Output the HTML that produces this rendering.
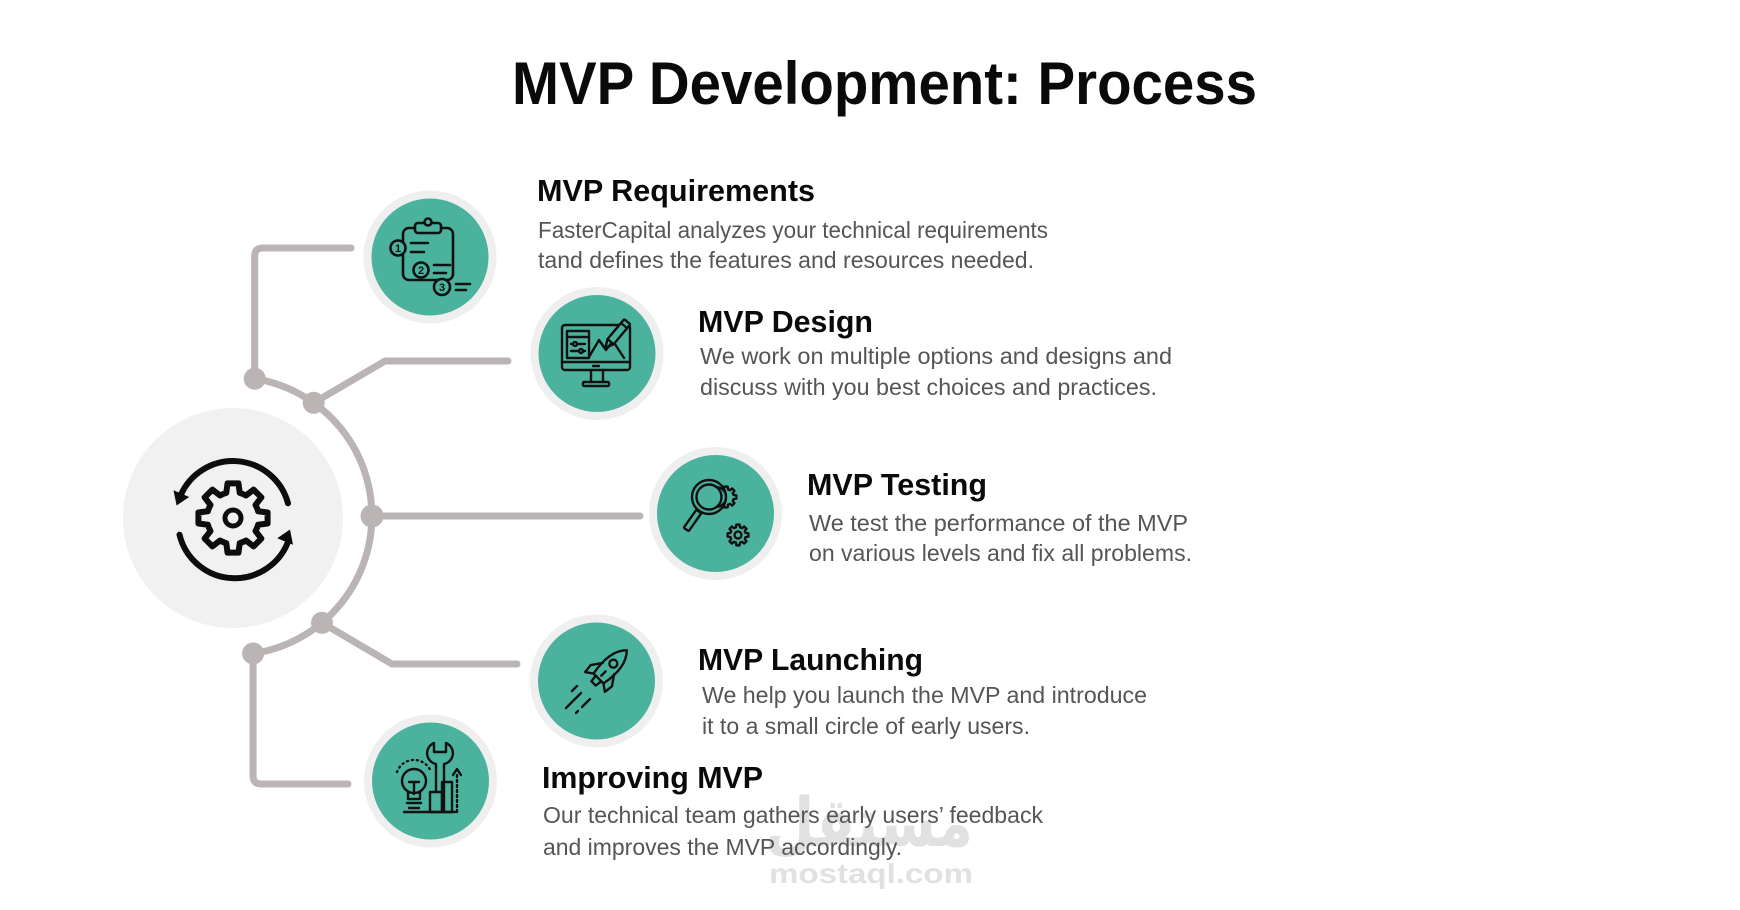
<!DOCTYPE html>
<html>
<head>
<meta charset="utf-8">
<style>
html,body{margin:0;padding:0;background:#fff;}
svg{display:block;}
text{font-family:"Liberation Sans",Arial,sans-serif;}
</style>
</head>
<body>
<svg width="1740" height="910" viewBox="0 0 1740 910" xmlns="http://www.w3.org/2000/svg">
<defs>
<path id="gear" d="M25.11,-6.73 L34.57,-5.48 L34.57,5.48 L25.11,6.73 A26,26 0 0 1 22.51,13 L28.32,20.57 L20.57,28.32 L13,22.51 A26,26 0 0 1 6.73,25.11 L5.48,34.57 L-5.48,34.57 L-6.73,25.11 A26,26 0 0 1 -13,22.51 L-20.57,28.32 L-28.32,20.57 L-22.51,13 A26,26 0 0 1 -25.11,6.73 L-34.57,5.48 L-34.57,-5.48 L-25.11,-6.73 A26,26 0 0 1 -22.51,-13 L-28.32,-20.57 L-20.57,-28.32 L-13,-22.51 A26,26 0 0 1 -6.73,-25.11 L-5.48,-34.57 L5.48,-34.57 L6.73,-25.11 A26,26 0 0 1 13,-22.51 L20.57,-28.32 L28.32,-20.57 L22.51,-13 A26,26 0 0 1 25.11,-6.73 Z"/>
</defs>
<rect width="1740" height="910" fill="#ffffff"/>

<!-- Title -->
<text x="512" y="104" font-size="60" font-weight="700" fill="#0a0a0a" textLength="745" lengthAdjust="spacingAndGlyphs">MVP Development: Process</text>

<!-- Central circle -->
<circle cx="233" cy="518" r="110" fill="#f1f1f1"/>

<!-- Central icon -->
<g fill="none" stroke="#0d0d0d" stroke-width="6" stroke-linecap="round" stroke-linejoin="round">
  <use href="#gear" transform="translate(233,518)"/>
  <circle cx="233" cy="518" r="8" stroke-width="5"/>
  <path d="M180.5,495.7 A57,57 0 0 1 288,503.3"/>
  <path d="M288.9,539.4 A57,57 0 0 1 179.5,534.7"/>
</g>
<polygon points="176.6,505.5 189.2,497 173.5,490.2" fill="#0d0d0d"/>
<polygon points="290,529.5 293,544.8 277.2,538.2" fill="#0d0d0d"/>

<!-- Connectors -->
<g fill="none" stroke="#bab4b4" stroke-width="7" stroke-linecap="round" stroke-linejoin="round">
  <path d="M254.7,378.7 A139,139 0 0 1 253.1,653.5"/>
  <path d="M254.7,378.7 L254.7,256 Q254.7,248 262.7,248 L351,248"/>
  <path d="M313.7,402.8 L385,361 L508,361"/>
  <path d="M372,516 L640,516"/>
  <path d="M322,622.8 L392,664 L517,664"/>
  <path d="M253.1,653.5 L253.1,776 Q253.1,784 261,784 L348,784"/>
</g>
<g fill="#bab4b4">
  <circle cx="254.7" cy="378.7" r="11"/>
  <circle cx="313.7" cy="402.8" r="11"/>
  <circle cx="372" cy="516" r="11.5"/>
  <circle cx="322" cy="622.8" r="11"/>
  <circle cx="253.1" cy="653.5" r="11"/>
</g>

<!-- Teal circles -->
<g>
  <circle cx="430" cy="257" r="66.5" fill="#efefef"/>
  <circle cx="430" cy="257" r="58.5" fill="#4bb39d"/>
  <circle cx="597" cy="353.5" r="66.5" fill="#efefef"/>
  <circle cx="597" cy="353.5" r="58.5" fill="#4bb39d"/>
  <circle cx="715.5" cy="513.5" r="66.5" fill="#efefef"/>
  <circle cx="715.5" cy="513.5" r="58.5" fill="#4bb39d"/>
  <circle cx="596.5" cy="681" r="66.5" fill="#efefef"/>
  <circle cx="596.5" cy="681" r="58.5" fill="#4bb39d"/>
  <circle cx="430.5" cy="781" r="66.5" fill="#efefef"/>
  <circle cx="430.5" cy="781" r="58.5" fill="#4bb39d"/>
</g>

<!-- Icon 1: clipboard -->
<g fill="none" stroke="#111" stroke-width="2.6" stroke-linecap="round" stroke-linejoin="round">
  <rect x="403" y="228" width="50" height="52" rx="6"/>
  <rect x="415" y="223" width="26" height="10" rx="3" fill="#4bb39d"/>
  <circle cx="428" cy="222" r="3.5" fill="#4bb39d"/>
  <circle cx="398" cy="248" r="7.5" fill="#4bb39d"/>
  <circle cx="421" cy="270" r="7.5" fill="#4bb39d"/>
  <circle cx="442" cy="287" r="8" fill="#4bb39d"/>
  <path d="M411,243 H428 M411,252 H424 M434,265 H450 M434,273 H446 M456,284 H470 M456,290 H466"/>
</g>
<g font-size="11" font-weight="700" fill="#111" text-anchor="middle">
  <text x="398" y="252">1</text>
  <text x="421" y="274">2</text>
  <text x="442" y="291">3</text>
</g>

<!-- Icon 2: monitor -->
<g fill="none" stroke="#111" stroke-width="2.4" stroke-linecap="round" stroke-linejoin="round">
  <rect x="562" y="325" width="68" height="45" rx="3"/>
  <line x1="562" y1="362" x2="630" y2="362"/>
  <line x1="593" y1="366" x2="599" y2="366"/>
  <path d="M591,370 V382 M603,370 V382"/>
  <rect x="583" y="382" width="26" height="4" rx="1"/>
  <rect x="567" y="331" width="22" height="27"/>
  <path d="M569,337 H587 M571,344 H585 M571,351 H585"/>
  <circle cx="575" cy="344" r="2" fill="#4bb39d"/>
  <circle cx="581" cy="351" r="2" fill="#4bb39d"/>
  <polyline points="589,357 599,340 606,350 613,341 624,358"/>
  <g transform="rotate(40 617 334)">
    <rect x="613" y="318" width="8" height="26" rx="1" fill="#4bb39d"/>
    <path d="M613,344 L617,352 L621,344"/>
    <line x1="613" y1="323" x2="621" y2="323"/>
  </g>
</g>

<!-- Icon 3: magnifier + gears -->
<g fill="none" stroke="#111" stroke-width="2.4" stroke-linecap="round" stroke-linejoin="round">
  <use href="#gear" transform="translate(726,497) scale(0.3)" stroke-width="8"/>
  <circle cx="709" cy="497" r="17" fill="#4bb39d"/>
  <circle cx="709" cy="497" r="12.5"/>
  <path d="M716,487 A10,10 0 0 1 716,507" stroke-width="2.2"/>
  <rect x="689.5" y="509.5" width="6" height="22" rx="1" transform="rotate(35 692.5 520.5)"/>
  <use href="#gear" transform="translate(738,535) scale(0.3)" stroke-width="8"/>
  <circle cx="738" cy="535" r="3.5"/>
</g>

<!-- Icon 4: rocket -->
<g fill="none" stroke="#111" stroke-width="2.4" stroke-linecap="round" stroke-linejoin="round">
  <g transform="translate(607,670) rotate(45)">
    <path d="M0,-28 C9,-19 10,-4 7,12 L-7,12 C-10,-4 -9,-19 0,-28Z"/>
    <circle cx="0" cy="-9" r="4"/>
    <path d="M-8,-2 L-15,8 L-14,17 L-7,12"/>
    <path d="M8,-2 L15,8 L14,17 L7,12"/>
    <path d="M-4,12 L-3,19 L3,19 L4,12"/>
    <line x1="0" y1="2" x2="0" y2="8"/>
  </g>
  <path d="M581,693 L566,708"/>
  <path d="M590,699 L582,707 M578,711 L576,713"/>
  <path d="M577,686 L572,691"/>
</g>

<!-- Icon 5: bulb, wrench, chart -->
<g fill="none" stroke="#111" stroke-width="2.4" stroke-linecap="round" stroke-linejoin="round">
  <circle cx="414" cy="781" r="12"/>
  <path d="M408,792 V799 H420 V792"/>
  <path d="M407,803 H421 M409,808 H419"/>
  <path d="M409,782 H419 M414,782 V794"/>
  <path d="M397,772 A18,18 0 0 1 431,772" stroke-dasharray="1 4"/>
  <path d="M434,743 A11,11 0 0 0 436,764 L436,810 L444,810 L444,764 A11,11 0 0 0 446,743 L446,752 L434,752 Z" fill="#4bb39d"/>
  <rect x="430" y="792" width="12" height="20" fill="#4bb39d"/>
  <rect x="442" y="782" width="10" height="30"/>
  <path d="M457,812 V772" stroke-dasharray="2 3"/>
  <path d="M453,775 L457,769 L461,775"/>
  <path d="M404,812 H455"/>
</g>

<!-- Watermark (behind text) -->
<g fill="#e1e1e1">
  <text x="765" y="846" font-size="68" font-weight="700" textLength="208" lengthAdjust="spacingAndGlyphs" style="font-family:'DejaVu Sans',sans-serif">مستقل</text>
  <text x="769" y="883" font-size="28" font-weight="700" textLength="204" lengthAdjust="spacingAndGlyphs">mostaql.com</text>
</g>

<!-- Headings -->
<g font-weight="700" fill="#0a0a0a" font-size="31">
  <text x="537" y="201" textLength="278" lengthAdjust="spacingAndGlyphs">MVP Requirements</text>
  <text x="698" y="332" textLength="175" lengthAdjust="spacingAndGlyphs">MVP Design</text>
  <text x="807" y="495" textLength="180" lengthAdjust="spacingAndGlyphs">MVP Testing</text>
  <text x="698" y="670" textLength="225" lengthAdjust="spacingAndGlyphs">MVP Launching</text>
  <text x="542" y="788" textLength="221" lengthAdjust="spacingAndGlyphs">Improving MVP</text>
</g>

<!-- Descriptions -->
<g fill="#555555" font-size="23">
  <text x="538" y="238" textLength="510" lengthAdjust="spacingAndGlyphs">FasterCapital analyzes your technical requirements</text>
  <text x="538" y="268" textLength="496" lengthAdjust="spacingAndGlyphs">tand defines the features and resources needed.</text>
  <text x="700" y="364" textLength="472" lengthAdjust="spacingAndGlyphs">We work on multiple options and designs and</text>
  <text x="700" y="395" textLength="457" lengthAdjust="spacingAndGlyphs">discuss with you best choices and practices.</text>
  <text x="809" y="531" textLength="379" lengthAdjust="spacingAndGlyphs">We test the performance of the MVP</text>
  <text x="809" y="561" textLength="383" lengthAdjust="spacingAndGlyphs">on various levels and fix all problems.</text>
  <text x="702" y="703" textLength="445" lengthAdjust="spacingAndGlyphs">We help you launch the MVP and introduce</text>
  <text x="702" y="734" textLength="328" lengthAdjust="spacingAndGlyphs">it to a small circle of early users.</text>
  <text x="543" y="823" textLength="500" lengthAdjust="spacingAndGlyphs">Our technical team gathers early users’ feedback</text>
  <text x="543" y="855" textLength="359" lengthAdjust="spacingAndGlyphs">and improves the MVP accordingly.</text>
</g>
</svg>
</body>
</html>
